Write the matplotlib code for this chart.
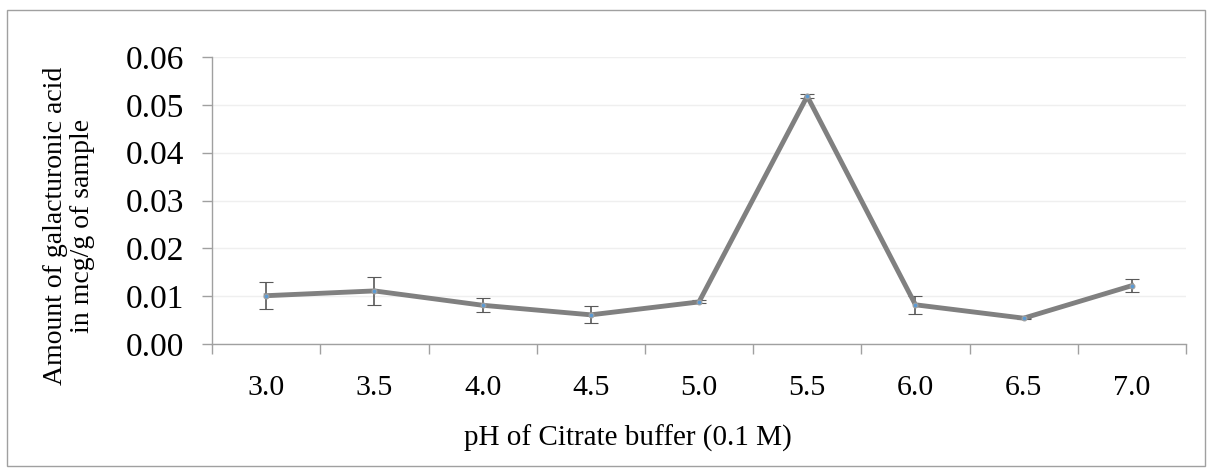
import matplotlib
matplotlib.use('Agg')
import matplotlib.pyplot as plt
from matplotlib.patches import Rectangle

plt.rcParams['font.family'] = ['Liberation Serif', 'DejaVu Serif']

# data
ph_labels = ['3.0', '3.5', '4.0', '4.5', '5.0', '5.5', '6.0', '6.5', '7.0']
amount = [0.0101, 0.0111, 0.0081, 0.0061, 0.0088, 0.0518, 0.0082, 0.0054, 0.0122]
error = [0.0028, 0.0029, 0.0015, 0.0018, 0.0003, 0.0004, 0.0019, 0.0001, 0.0013]
y_ticks = [0.00, 0.01, 0.02, 0.03, 0.04, 0.05, 0.06]

fig = plt.figure(figsize=(12.12, 4.73), dpi=100)
ax = fig.add_axes([0.175, 0.2727, 0.8035, 0.6068])

x = list(range(len(ph_labels)))
ax.errorbar(x, amount, yerr=error, color='#808080', lw=3.5,
            ecolor='#595959', elinewidth=1.2, capsize=5, capthick=1.2,
            marker='o', ms=3.5, mfc='#5b9bd5', mec='#a0a0a0', mew=0.8, zorder=3)

ax.set_xlim(-0.5, len(ph_labels) - 0.5)
ax.set_ylim(0, 0.06)
ax.set_yticks(y_ticks)
ax.set_yticklabels(['%.2f' % v for v in y_ticks], fontsize=24)
ax.set_xticks(x)
ax.set_xticklabels(ph_labels, fontsize=21.5)
ax.tick_params(axis='x', which='major', length=0, pad=22)
ax.set_xticks([i - 0.5 for i in range(len(ph_labels) + 1)], minor=True)
ax.tick_params(axis='x', which='minor', length=7, color='#a0a0a0', width=1)
ax.tick_params(axis='y', length=7, color='#a0a0a0', width=1, pad=13)

ax.grid(axis='y', color='#efefef', lw=1)
ax.set_axisbelow(True)
for s in ['top', 'right']:
    ax.spines[s].set_visible(False)
for s in ['left', 'bottom']:
    ax.spines[s].set_color('#a0a0a0')
    ax.spines[s].set_linewidth(1)

fig.text(628 / 1212, 1 - 438 / 473, 'pH of Citrate buffer (0.1 M)', fontsize=21,
         ha='center', va='center')
fig.text(69 / 1212, 1 - 226 / 473, 'Amount of galacturonic acid\nin mcg/g of sample',
         fontsize=20, rotation=90, ha='center', va='center', multialignment='center',
         linespacing=1.08)

fig.patches.append(Rectangle((7 / 1212, 1 - 466 / 473), 1198 / 1212, 456 / 473,
                             transform=fig.transFigure, fill=False,
                             edgecolor='#a0a0a0', lw=1))

fig.savefig('out.png', dpi=100)
